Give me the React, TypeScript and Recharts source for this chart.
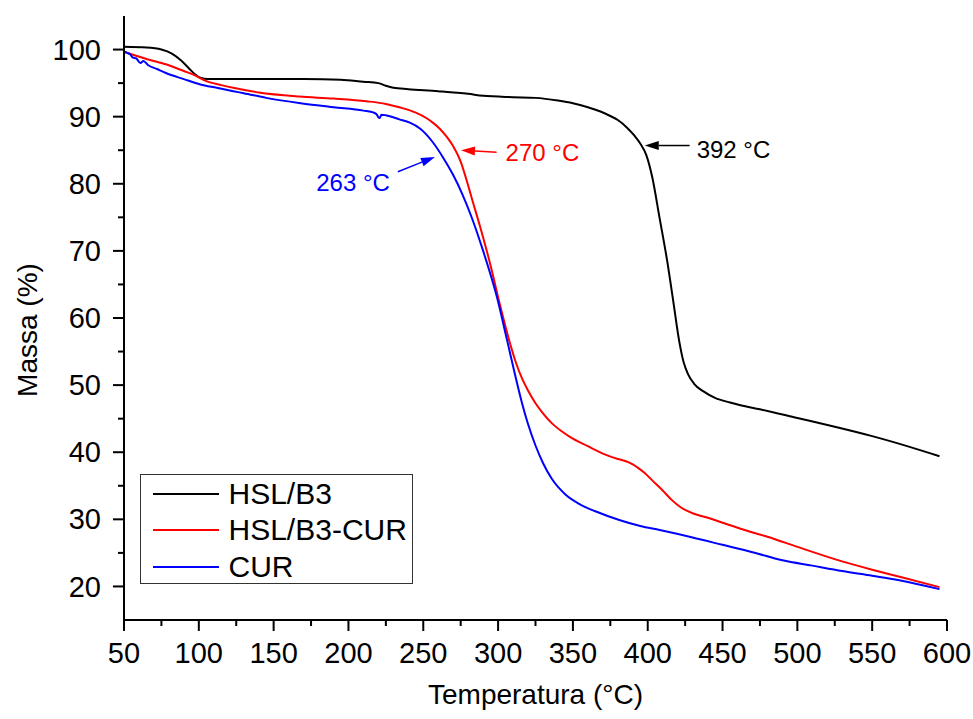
import { LineChart, Line, XAxis, YAxis, Legend, ReferenceLine, Label } from "recharts";

const FONT = "'Liberation Sans', Arial, Helvetica, sans-serif";

// HSL/B3 (black)
const hslTemp = [50, 65, 75, 82, 88, 93, 97, 101, 106, 125, 150, 170, 195, 210, 220, 225, 230, 240, 260, 280, 290, 310, 325, 340, 350, 360, 368, 375, 380, 386, 391, 395, 399, 403, 408, 413, 417, 421, 424, 427, 431, 437, 445, 455, 462, 475, 500, 525, 550, 575, 595];
const hslMass = [100.4, 100.3, 100.0, 99.4, 98.4, 97.3, 96.4, 95.8, 95.6, 95.6, 95.6, 95.6, 95.5, 95.2, 95.0, 94.6, 94.3, 94.1, 93.8, 93.4, 93.1, 92.9, 92.8, 92.4, 92.0, 91.4, 90.8, 90.1, 89.5, 88.4, 87.2, 86.0, 84.3, 81.0, 74.8, 68.5, 62.6, 56.6, 53.4, 51.6, 50.2, 49.1, 48.1, 47.4, 47.0, 46.4, 45.1, 43.8, 42.4, 40.8, 39.4];

// HSL/B3-CUR (red)
const hslCurTemp = [50, 55, 65, 78, 90, 96, 105, 115, 123, 140, 167, 190, 212, 225, 234, 245, 252, 257, 261, 266, 270, 275, 279, 283, 288, 295, 301, 308, 312, 316, 320, 325, 330, 336, 342, 348, 360, 370, 380, 385, 390, 394, 398, 403, 410, 416, 422, 430, 439, 450, 462, 480, 500, 526, 550, 569, 595];
const hslCurMass = [99.7, 99.3, 98.6, 97.8, 96.8, 96.3, 95.3, 94.7, 94.3, 93.6, 93.0, 92.7, 92.3, 91.9, 91.4, 90.6, 89.8, 89.0, 88.2, 86.9, 85.6, 83.3, 80.5, 77.4, 73.6, 67.8, 62.2, 56.2, 53.3, 51.0, 49.2, 47.3, 45.8, 44.3, 43.2, 42.3, 40.9, 39.8, 39.0, 38.7, 38.2, 37.6, 36.9, 35.8, 34.3, 32.9, 31.8, 30.9, 30.3, 29.5, 28.6, 27.4, 25.9, 24.0, 22.5, 21.4, 19.9];

// CUR (blue)
const curTemp = [50, 52, 54, 56, 58, 61, 63, 66, 72, 78, 90, 101, 112, 123, 130, 145, 168, 190, 210, 217, 219, 220, 221, 222, 225, 234, 241, 248, 256, 263, 270, 276, 282, 290, 299, 306, 312, 316, 320, 325, 330, 336, 345, 355, 365, 381, 395, 408, 430, 450, 470, 490, 510, 530, 550, 569, 595];
const curMass = [99.7, 99.5, 99.3, 98.8, 98.7, 98.0, 98.3, 97.7, 97.1, 96.5, 95.6, 94.8, 94.3, 93.8, 93.5, 92.8, 92.0, 91.4, 90.9, 90.6, 90.3, 89.9, 89.8, 90.3, 90.2, 89.6, 89.1, 88.2, 86.3, 84.0, 81.3, 78.5, 75.2, 70.0, 63.3, 56.7, 50.9, 47.3, 44.2, 41.0, 38.4, 36.0, 33.7, 32.2, 31.2, 29.9, 29.0, 28.4, 27.3, 26.2, 25.1, 23.9, 23.1, 22.3, 21.6, 20.9, 19.6];

const xTicks = [50, 75, 100, 125, 150, 175, 200, 225, 250, 275, 300, 325, 350, 375, 400, 425, 450, 475, 500, 525, 550, 575, 600];
const yTicks = [20, 25, 30, 35, 40, 45, 50, 55, 60, 65, 70, 75, 80, 85, 90, 95, 100];

const zip = (t: number[], m: number[]) => t.map((v, i) => ({ t: v, m: m[i] }));

const series = [
  { name: "HSL/B3", color: "#000000", data: zip(hslTemp, hslMass) },
  { name: "HSL/B3-CUR", color: "#ff0000", data: zip(hslCurTemp, hslCurMass) },
  { name: "CUR", color: "#0000ff", data: zip(curTemp, curMass) },
];

// onset arrows: tail -> tip, in data units
const arrows = [
  { label: "392 °C", color: "#000000", tail: { x: 428, y: 85.7 }, tip: { x: 398, y: 85.7 }, dx: 7, dy: 4, anchor: "start" },
  { label: "270 °C", color: "#ff0000", tail: { x: 299, y: 84.7 }, tip: { x: 275.2, y: 85.0 }, dx: 9, dy: 0, anchor: "start" },
  { label: "263 °C", color: "#0000ff", tail: { x: 233, y: 81.8 }, tip: { x: 257.8, y: 84.0 }, dx: -8, dy: 11, anchor: "end" },
];

const YTick = (props: any) => {
  const { x, y, payload } = props;
  const major = payload.value % 10 === 0;
  return (
    <g>
      <line x1={x} x2={x - (major ? 11 : 6)} y1={y} y2={y} stroke="#000" strokeWidth={2} />
      {major && (
        <text x={x - 23} y={y} dy="0.35em" textAnchor="end" fontSize={29} fontFamily={FONT} fill="#000">
          {payload.value}
        </text>
      )}
    </g>
  );
};

const XTick = (props: any) => {
  const { x, y, payload } = props;
  const major = payload.value % 50 === 0;
  return (
    <g>
      <line x1={x} x2={x} y1={y} y2={y + (major ? 11 : 6)} stroke="#000" strokeWidth={2} />
      {major && (
        <text x={x} y={y + 43} textAnchor="middle" fontSize={29} fontFamily={FONT} fill="#000">
          {payload.value}
        </text>
      )}
    </g>
  );
};

const makeArrow = (a: (typeof arrows)[number]) => (p: any) => {
  const { x1, y1, x2, y2 } = p;
  const ang = Math.atan2(y2 - y1, x2 - x1);
  const len = 14;
  const w = 4.5;
  const bx = x2 - len * Math.cos(ang);
  const by = y2 - len * Math.sin(ang);
  const nx = -Math.sin(ang) * w;
  const ny = Math.cos(ang) * w;
  return (
    <g>
      <line x1={x1} y1={y1} x2={bx} y2={by} stroke={a.color} strokeWidth={1.5} />
      <polygon points={`${x2},${y2} ${bx + nx},${by + ny} ${bx - nx},${by - ny}`} fill={a.color} />
      <text x={x1 + a.dx} y={y1 + a.dy} dy="0.35em" textAnchor={a.anchor} fontSize={24} fontFamily={FONT} fill={a.color}>
        {a.label}
      </text>
    </g>
  );
};

const LegendBox = () => (
  <div
    style={{
      boxSizing: "border-box",
      width: 273,
      height: 110,
      border: "1.5px solid #333",
      background: "#fff",
      position: "relative",
      fontFamily: FONT,
      fontSize: 30,
      color: "#000",
    }}
  >
    {series.map((s, i) => (
      <div
        key={s.name}
        style={{
          position: "absolute",
          left: 0,
          top: 0.5 + i * 36.5,
          height: 36,
          display: "flex",
          alignItems: "center",
          lineHeight: "36px",
          whiteSpace: "nowrap",
        }}
      >
        <div style={{ marginLeft: 11.5, width: 66, height: 2, background: s.color }} />
        <span style={{ marginLeft: 10 }}>{s.name}</span>
      </div>
    ))}
  </div>
);

export default function App() {
  return (
    <div style={{ position: "absolute", left: 0, top: 0, background: "#fff" }}>
      <LineChart width={973} height={719} margin={{ top: 16, right: 26, left: 0, bottom: 0 }}>
        <XAxis
          dataKey="t"
          type="number"
          domain={[50, 600]}
          ticks={xTicks}
          interval={0}
          height={99}
          tickSize={0}
          tickMargin={0}
          tickLine={false}
          tick={<XTick />}
          axisLine={{ stroke: "#000", strokeWidth: 2 }}
        >
          <Label
            content={(p: any) => {
              const vb = p.viewBox;
              return (
                <text x={vb.x + vb.width / 2} y={vb.y + 84} textAnchor="middle" fontSize={28} fontFamily={FONT} fill="#000">
                  Temperatura (°C)
                </text>
              );
            }}
          />
        </XAxis>
        <XAxis xAxisId="top" orientation="top" type="number" domain={[50, 600]} height={0} tick={false} tickLine={false} axisLine={{ stroke: "#000", strokeWidth: 2 }} />
        <YAxis
          type="number"
          domain={[15, 105]}
          ticks={yTicks}
          interval={0}
          width={124}
          tickSize={0}
          tickMargin={0}
          tickLine={false}
          tick={<YTick />}
          axisLine={{ stroke: "#000", strokeWidth: 2 }}
        >
          <Label
            content={(p: any) => {
              const vb = p.viewBox;
              const cx = 37;
              const cy = vb.y + vb.height / 2 + 12;
              return (
                <text x={cx} y={cy} transform={`rotate(-90, ${cx}, ${cy})`} textAnchor="middle" fontSize={28} fontFamily={FONT} fill="#000">
                  Massa (%)
                </text>
              );
            }}
          />
        </YAxis>
        <YAxis yAxisId="right" orientation="right" type="number" domain={[15, 105]} width={0} tick={false} tickLine={false} axisLine={{ stroke: "#000", strokeWidth: 2 }} />
        {series.map((s) => (
          <Line
            key={s.name}
            name={s.name}
            data={s.data}
            dataKey="m"
            type="monotone"
            stroke={s.color}
            strokeWidth={2}
            dot={false}
            activeDot={false}
            isAnimationActive={false}
          />
        ))}
        {arrows.map((a) => (
          <ReferenceLine key={a.label} segment={[a.tail, a.tip]} shape={makeArrow(a)} />
        ))}
        <Legend
          layout="vertical"
          align="center"
          verticalAlign="middle"
          wrapperStyle={{ left: 140, top: 474, width: 273, height: 110 }}
          content={() => <LegendBox />}
        />
      </LineChart>
    </div>
  );
}
